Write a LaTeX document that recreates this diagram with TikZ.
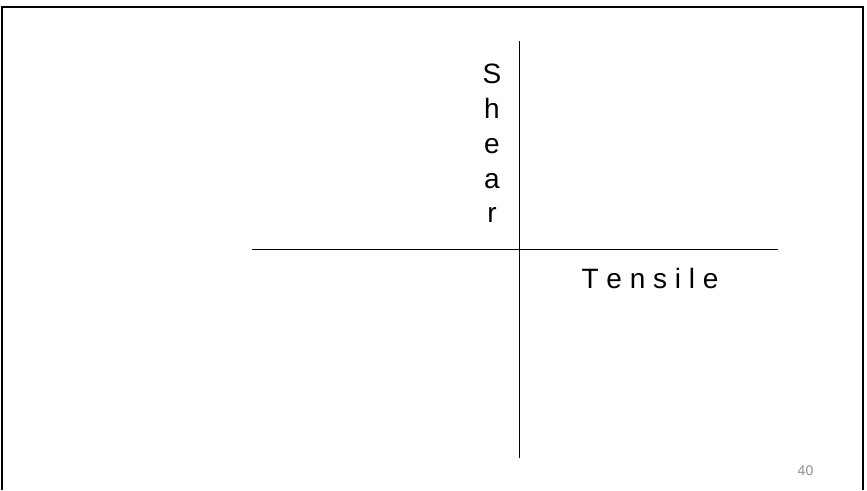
\documentclass[tikz,border=0pt]{standalone}
\usepackage{fontspec}
\setmainfont{Liberation Sans}
\definecolor{pagenum}{HTML}{8C8C8C}
\begin{document}
\begin{tikzpicture}[x=1pt,y=-1pt,
  frameline/.style={line width=2pt,black},
  axisline/.style={line width=1.8pt,black},
  biglabel/.style={font=\fontsize{28}{34}\selectfont,inner sep=0pt,anchor=base},
  pagelabel/.style={font=\fontsize{14}{17}\selectfont,text=pagenum,inner sep=0pt,anchor=base}]
\useasboundingbox (0,0) rectangle (867,490);
% frame (open at bottom)
\coordinate (fbl) at (1.5,490);
\coordinate (ftl) at (1.5,7);
\coordinate (ftr) at (863,7);
\coordinate (fbr) at (863,490);
\draw[frameline] (fbl) -- (ftl) -- (ftr) -- (fbr);
% axes
\coordinate (vtop) at (519.5,41);
\coordinate (vbot) at (519.5,458);
\coordinate (hleft) at (252,249.5);
\coordinate (hright) at (778,249.5);
\draw[axisline] (vtop) -- (vbot);
\draw[axisline] (hleft) -- (hright);
% Shear (vertical letters)
\node[biglabel] (s1) at (492,83) {S};
\node[biglabel] (s2) at (492,118) {h};
\node[biglabel] (s3) at (492,153) {e};
\node[biglabel] (s4) at (492,188) {a};
\node[biglabel] (s5) at (492,222) {r};
% Tensile
\node[biglabel] (tensile) at (650,288) {T e n s i l e};
% page number
\node[pagelabel] (pnum) at (805.5,475) {40};
\end{tikzpicture}
\end{document}
